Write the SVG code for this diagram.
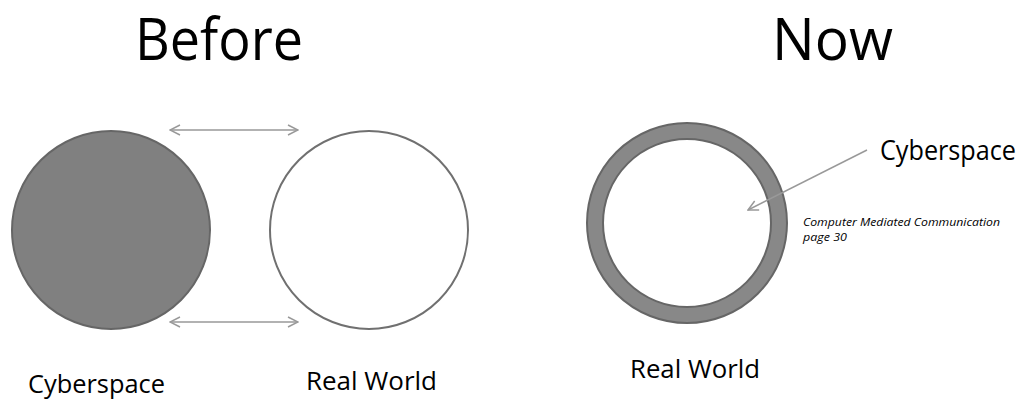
<svg xmlns="http://www.w3.org/2000/svg" width="1024" height="400" viewBox="0 0 1024 400">
<defs>
<style>
.t{font-family:"Open Sans","Liberation Sans",sans-serif;fill:#000}
.title{font-size:58px}
.lbl{font-size:25px}
.note{font-size:11px;font-style:italic}
.conn{stroke:#999;stroke-width:1.5;fill:none}
</style>
<marker id="ah" viewBox="0 0 12 12" refX="11" refY="6" markerWidth="12" markerHeight="12" markerUnits="userSpaceOnUse" orient="auto-start-reverse">
<path d="M1,1 L11,6 L1,11" fill="none" stroke="#999" stroke-width="1.5"/>
</marker>
</defs>
<rect width="1024" height="400" fill="#fff"/>
<text class="t title" x="135" y="60" textLength="168" lengthAdjust="spacingAndGlyphs">Before</text>
<text class="t title" x="772" y="60" textLength="121" lengthAdjust="spacingAndGlyphs">Now</text>
<g id="cyberspace-before">
<circle cx="111" cy="230" r="99" fill="#808080" stroke="#666" stroke-width="2"/>
<text class="t lbl" x="28" y="393" textLength="137" lengthAdjust="spacingAndGlyphs">Cyberspace</text>
</g>
<g id="realworld-before">
<circle cx="369" cy="230" r="99" fill="#fff" stroke="#707070" stroke-width="2"/>
<text class="t lbl" x="306" y="390" textLength="131" lengthAdjust="spacingAndGlyphs">Real World</text>
</g>
<g id="now-ring">
<circle cx="687" cy="223" r="100" fill="#888" stroke="#666" stroke-width="2"/>
<circle cx="687" cy="223" r="84" fill="#fff" stroke="#666" stroke-width="2"/>
<text class="t lbl" x="630" y="378" textLength="130" lengthAdjust="spacingAndGlyphs">Real World</text>
</g>
<g id="cyberspace-label">
<text class="t" x="880" y="160" font-size="27" textLength="136" lengthAdjust="spacingAndGlyphs">Cyberspace</text>
<text class="t note" x="803" y="226" textLength="197" lengthAdjust="spacingAndGlyphs">Computer Mediated Communication</text>
<text class="t note" x="803" y="241" textLength="44" lengthAdjust="spacingAndGlyphs">page 30</text>
</g>
<g id="connectors">
<line class="conn" x1="170" y1="130" x2="298" y2="130" marker-start="url(#ah)" marker-end="url(#ah)"/>
<line class="conn" x1="170" y1="322" x2="298" y2="322" marker-start="url(#ah)" marker-end="url(#ah)"/>
<line class="conn" x1="867" y1="150" x2="748" y2="210" marker-end="url(#ah)"/>
</g>
</svg>
